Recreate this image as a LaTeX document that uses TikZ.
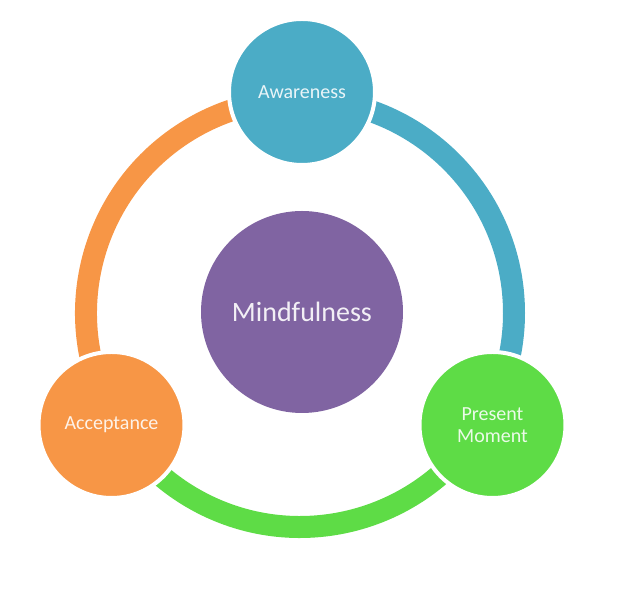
\documentclass[tikz,border=0pt]{standalone}
\usepackage{fontspec}
\setmainfont{Carlito}
\definecolor{cblue}{HTML}{4BACC6}
\definecolor{corange}{HTML}{F79646}
\definecolor{cgreen}{HTML}{5EDC46}
\definecolor{cpurple}{HTML}{8064A2}
\begin{document}
\begin{tikzpicture}[x=1pt,y=1pt,
  ringarc/.style={line width=22pt},
  bubble/.style={circle, minimum size=146pt, inner sep=0pt, draw=white, line width=4pt,
    text=white, text opacity=0.88, align=center, font=\fontsize{20}{22}\selectfont},
  core/.style={circle, minimum size=202pt, inner sep=0pt, fill=cpurple,
    text=white, text opacity=0.9, font=\fontsize{28}{30}\selectfont}]
\useasboundingbox (0,0) rectangle (630,593);
\coordinate (c) at (300,280);
\draw[ringarc, cblue] (c) ++(90:214) arc[start angle=90, end angle=-30.2, radius=214];
\draw[ringarc, cgreen] (c) ++(-30.2:214) arc[start angle=-30.2, end angle=-149.3, radius=214];
\draw[ringarc, corange] (c) ++(210.7:214) arc[start angle=210.7, end angle=90, radius=214];
\node[core] (mind) at (302,281) {Mindfulness};
\node[bubble, fill=cblue] (aware) at (302,501) {Awareness};
\node[bubble, fill=corange] (accept) at (111.5,168) {Acceptance};
\node[bubble, fill=cgreen] (present) at (492.5,168) {Present\\Moment};
\end{tikzpicture}
\end{document}
